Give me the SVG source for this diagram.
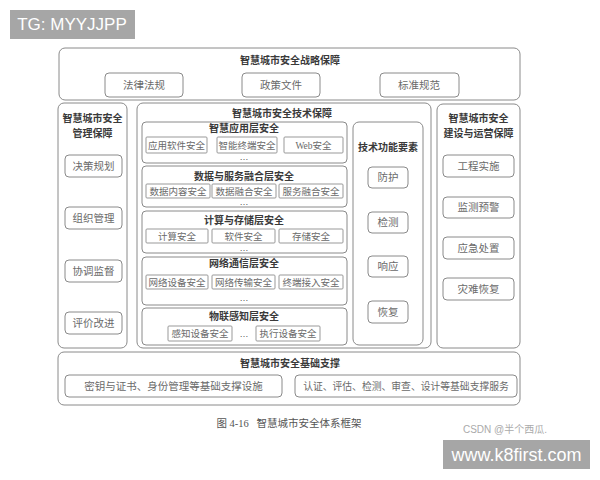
<svg xmlns="http://www.w3.org/2000/svg" width="600" height="480" viewBox="0 0 600 480">
<style>
.box{fill:none;stroke:#8a8a8a;stroke-width:1}
.sub{fill:#fff;stroke:#8a8a8a;stroke-width:1}
.cell{fill:#fff;stroke:#999;stroke-width:1}
.t{font-family:"Noto Sans CJK SC","Liberation Sans",sans-serif;font-size:10px;font-weight:bold;fill:#3a3a3a;text-anchor:middle}
.l{font-family:"Liberation Serif","Noto Sans CJK SC",serif;font-size:10.5px;fill:#6a6a6a;text-anchor:middle}
.c{font-family:"Liberation Serif","Noto Sans CJK SC",serif;font-size:9.5px;fill:#6a6a6a;text-anchor:middle}
.d{font-family:"Liberation Sans",sans-serif;font-size:9px;fill:#555;text-anchor:middle}
</style>
<rect width="600" height="480" fill="#fff"/>
<g id="tg"><rect x="10" y="10" width="125" height="29" fill="#a6a6a6"/><text x="72" y="30" font-family="Liberation Sans,sans-serif" font-size="17" fill="#fff" text-anchor="middle">TG: MYYJJPP</text></g>

<g id="strategy">
<rect class="box" x="59" y="48" width="461" height="52" rx="6"/>
<text class="t" x="290" y="64">智慧城市安全战略保障</text>
<rect class="sub" x="105" y="73" width="78" height="24" rx="4"/><text class="l" x="144" y="89">法律法规</text>
<rect class="sub" x="242" y="73" width="78" height="24" rx="4"/><text class="l" x="281" y="89">政策文件</text>
<rect class="sub" x="380" y="73" width="79" height="24" rx="4"/><text class="l" x="419" y="89">标准规范</text>
</g>

<g id="management">
<rect class="box" x="58" y="103" width="69" height="245" rx="6"/>
<text class="t" x="92.5" y="122">智慧城市安全</text>
<text class="t" x="92.5" y="137">管理保障</text>
<rect class="sub" x="65" y="155" width="57" height="22" rx="4"/><text class="l" x="93.5" y="170">决策规划</text>
<rect class="sub" x="65" y="207" width="57" height="22" rx="4"/><text class="l" x="93.5" y="222">组织管理</text>
<rect class="sub" x="65" y="260" width="57" height="22" rx="4"/><text class="l" x="93.5" y="275">协调监督</text>
<rect class="sub" x="65" y="312" width="57" height="22" rx="4"/><text class="l" x="93.5" y="327">评价改进</text>
</g>

<g id="tech">
<rect class="box" x="137" y="103" width="294" height="245" rx="6"/>
<text class="t" x="282" y="117">智慧城市安全技术保障</text>
</g>

<g id="layer-app">
<rect class="box" x="142" y="122" width="205" height="41" rx="4"/>
<text class="t" x="244" y="132">智慧应用层安全</text>
<rect class="cell" x="146" y="137" width="61" height="16" rx="1"/><text class="c" x="176.5" y="149">应用软件安全</text>
<rect class="cell" x="217" y="137" width="60" height="16" rx="1"/><text class="c" x="247" y="149">智能终端安全</text>
<rect class="cell" x="284" y="137" width="59" height="16" rx="1"/><text class="c" x="313.5" y="149">Web安全</text>
<text class="d" x="244" y="160">…</text>
</g>

<g id="layer-data">
<rect class="box" x="142" y="166" width="205" height="41" rx="4"/>
<text class="t" x="244" y="180">数据与服务融合层安全</text>
<rect class="cell" x="146" y="184" width="64" height="14" rx="1"/><text class="c" x="178" y="195">数据内容安全</text>
<rect class="cell" x="212" y="184" width="64" height="14" rx="1"/><text class="c" x="244" y="195">数据融合安全</text>
<rect class="cell" x="279" y="184" width="64" height="14" rx="1"/><text class="c" x="311" y="195">服务融合安全</text>
<text class="d" x="244" y="205">…</text>
</g>

<g id="layer-compute">
<rect class="box" x="142" y="211" width="205" height="42" rx="4"/>
<text class="t" x="244" y="224">计算与存储层安全</text>
<rect class="cell" x="146" y="229" width="62" height="14" rx="1"/><text class="c" x="177" y="240">计算安全</text>
<rect class="cell" x="212" y="229" width="63" height="14" rx="1"/><text class="c" x="243.5" y="240">软件安全</text>
<rect class="cell" x="279" y="229" width="64" height="14" rx="1"/><text class="c" x="311" y="240">存储安全</text>
<text class="d" x="244" y="251">…</text>
</g>

<g id="layer-net">
<rect class="box" x="142" y="257" width="205" height="48" rx="4"/>
<text class="t" x="244" y="267">网络通信层安全</text>
<rect class="cell" x="146" y="275" width="62" height="14" rx="1"/><text class="c" x="177" y="286">网络设备安全</text>
<rect class="cell" x="212" y="275" width="63" height="14" rx="1"/><text class="c" x="243.5" y="286">网络传输安全</text>
<rect class="cell" x="279" y="275" width="64" height="14" rx="1"/><text class="c" x="311" y="286">终端接入安全</text>
<text class="d" x="244" y="301">…</text>
</g>

<g id="layer-iot">
<rect class="box" x="142" y="308" width="205" height="37" rx="4"/>
<text class="t" x="244" y="320">物联感知层安全</text>
<rect class="cell" x="168" y="326" width="64" height="15" rx="1"/><text class="c" x="200" y="337">感知设备安全</text>
<text class="d" x="244" y="337">…</text>
<rect class="cell" x="256" y="326" width="64" height="15" rx="1"/><text class="c" x="288" y="337">执行设备安全</text>
</g>

<g id="elements">
<rect class="box" x="353" y="122" width="70" height="223" rx="6"/>
<text class="t" x="388" y="151">技术功能要素</text>
<rect class="sub" x="368" y="167" width="40" height="21" rx="4"/><text class="l" x="388" y="181">防护</text>
<rect class="sub" x="368" y="212" width="40" height="21" rx="4"/><text class="l" x="388" y="226">检测</text>
<rect class="sub" x="368" y="256" width="40" height="21" rx="4"/><text class="l" x="388" y="270">响应</text>
<rect class="sub" x="368" y="301" width="40" height="22" rx="4"/><text class="l" x="388" y="316">恢复</text>
</g>

<g id="operation">
<rect class="box" x="437" y="104" width="83" height="244" rx="6"/>
<text class="t" x="478.5" y="122">智慧城市安全</text>
<text class="t" x="478.5" y="137">建设与运营保障</text>
<rect class="sub" x="443" y="155" width="71" height="22" rx="4"/><text class="l" x="478.5" y="170">工程实施</text>
<rect class="sub" x="443" y="197" width="71" height="21" rx="4"/><text class="l" x="478.5" y="211">监测预警</text>
<rect class="sub" x="443" y="237" width="71" height="22" rx="4"/><text class="l" x="478.5" y="252">应急处置</text>
<rect class="sub" x="443" y="278" width="71" height="22" rx="4"/><text class="l" x="478.5" y="293">灾难恢复</text>
</g>

<g id="foundation">
<rect class="box" x="58" y="352" width="462" height="53" rx="6"/>
<text class="t" x="290" y="367">智慧城市安全基础支撑</text>
<rect class="sub" x="65" y="375" width="217" height="22" rx="4"/><text class="l" x="173.5" y="390">密钥与证书、身份管理等基础支撑设施</text>
<rect class="sub" x="295" y="375" width="222" height="22" rx="4"/><text class="l" x="406" y="390" style="font-size:9.8px">认证、评估、检测、审查、设计等基础支撑服务</text>
</g>

<g id="connectors"></g>

<text x="289" y="427" font-family="Liberation Serif,'Noto Sans CJK SC',serif" font-size="10.5" fill="#555" text-anchor="middle" xml:space="preserve">图 4-16   智慧城市安全体系框架</text>
<text x="505" y="433" font-family="Liberation Sans,'Noto Sans CJK SC',sans-serif" font-size="10" fill="#aaa" text-anchor="middle">CSDN @半个西瓜.</text>
<g id="watermark"><rect x="443" y="440" width="147" height="29" fill="#a6a6a6"/><text x="516.5" y="461" font-family="Liberation Sans,sans-serif" font-size="18" fill="#fff" text-anchor="middle">www.k8first.com</text></g>
</svg>
